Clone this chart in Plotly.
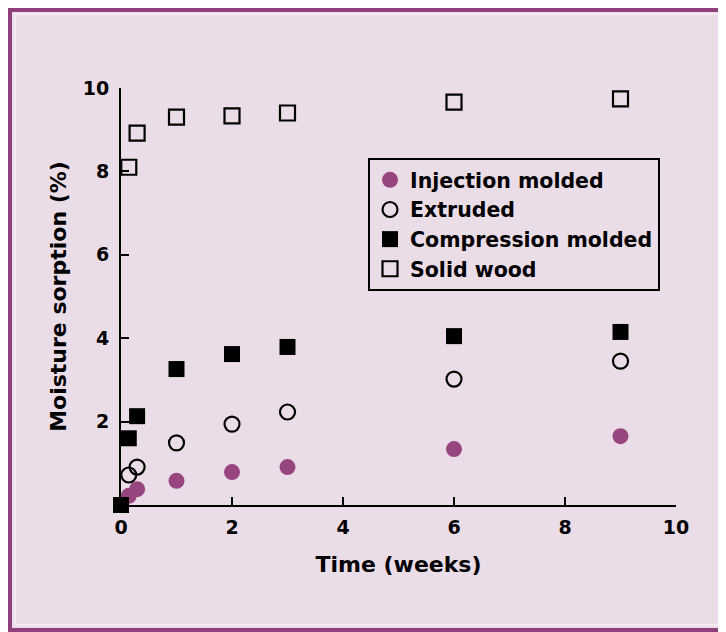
import plotly.graph_objects as go

# Data
series_names = ["Injection molded", "Extruded", "Compression molded", "Solid wood"]

time_injection = [0.14, 0.29, 1.0, 2.0, 3.0, 6.0, 9.0]
injection_molded = [0.22, 0.38, 0.58, 0.79, 0.91, 1.34, 1.65]

time_extruded = [0.14, 0.29, 1.0, 2.0, 3.0, 6.0, 9.0]
extruded = [0.72, 0.91, 1.49, 1.94, 2.23, 3.02, 3.45]

time_compression = [0.0, 0.14, 0.29, 1.0, 2.0, 3.0, 6.0, 9.0]
compression_molded = [0.0, 1.6, 2.13, 3.26, 3.62, 3.79, 4.05, 4.15]

time_wood = [0.14, 0.29, 1.0, 2.0, 3.0, 6.0, 9.0]
solid_wood = [8.1, 8.92, 9.3, 9.33, 9.4, 9.66, 9.74]

x_ticks = [0, 2, 4, 6, 8, 10]
y_ticks = [2, 4, 6, 8, 10]

BG = "#EBDDE7"
PURPLE = "#8E3F7C"
INNER = "#F4EBF1"
FONT = "DejaVu Sans, Verdana, sans-serif"

fig = go.Figure()
fig.add_trace(go.Scatter(
    x=time_injection, y=injection_molded, mode="markers", name=series_names[0],
    marker=dict(symbol="circle", size=16, color="#97457F", line=dict(width=0)),
    cliponaxis=False))
fig.add_trace(go.Scatter(
    x=time_extruded, y=extruded, mode="markers", name=series_names[1],
    marker=dict(symbol="circle-open", size=15, color="black", line=dict(width=2.2, color="black")),
    cliponaxis=False))
fig.add_trace(go.Scatter(
    x=time_compression, y=compression_molded, mode="markers", name=series_names[2],
    marker=dict(symbol="square", size=16, color="black", line=dict(width=0)),
    cliponaxis=False))
fig.add_trace(go.Scatter(
    x=time_wood, y=solid_wood, mode="markers", name=series_names[3],
    marker=dict(symbol="square-open", size=15, color="black", line=dict(width=2.2, color="black")),
    cliponaxis=False))

OFF = 8  # page body margin
W, H = 726 - OFF, 632 - OFF
L = 121 - OFF
R = W - (676 - OFF)
T = 88 - OFF
B = H - (505 - OFF)
pw, ph = W - L - R, H - T - B

def px2x(px):  # reference window pixel -> paper x
    return (px - OFF - L) / pw

def py2y(py):  # reference window pixel -> paper y
    return (H - B - (py - OFF)) / ph

def seg(x0, y0, x1, y1, color, width):
    fig.add_shape(type="line", xref="paper", yref="paper",
                  x0=px2x(x0), y0=py2y(y0), x1=px2x(x1), y1=py2y(y1),
                  line=dict(color=color, width=width), layer="below")

# light inner edge
seg(15, 14, 15, 625, INNER, 2)
seg(15, 14, 719, 14, INNER, 2)
seg(15, 625, 719, 625, INNER, 2)
seg(719, 14, 719, 625, INNER, 2)
# outer purple frame (left, top, bottom)
seg(10, 9, 10, 630, PURPLE, 4)
seg(8, 10, 726, 10, PURPLE, 4)
seg(8, 630, 726, 630, PURPLE, 4)

fig.update_layout(
    width=W, height=H,
    margin=dict(l=L, r=R, t=T, b=B, autoexpand=False),
    paper_bgcolor=BG, plot_bgcolor=BG,
    font=dict(family=FONT, size=20, color="black", weight="bold"),
    showlegend=True,
    legend=dict(
        x=px2x(368), y=py2y(158), xanchor="left", yanchor="top",
        bgcolor=BG, bordercolor="black", borderwidth=2,
        font=dict(family=FONT, size=20.5, color="black", weight="bold"),
        tracegroupgap=0, itemsizing="trace", traceorder="normal",
    ),
    xaxis=dict(
        range=[0, 10], tickvals=x_ticks, ticktext=[str(v) for v in x_ticks],
        showgrid=False, zeroline=False, showline=True, linecolor="black", linewidth=2,
        ticks="inside", ticklen=8, tickwidth=2, tickcolor="black",
        tickfont=dict(family=FONT, size=19, weight="bold"), ticklabelstandoff=4,
        title=dict(text="Time (weeks)", font=dict(family=FONT, size=22, weight="bold"), standoff=20),
    ),
    yaxis=dict(
        range=[0, 10], tickvals=y_ticks, ticktext=[str(v) for v in y_ticks],
        showgrid=False, zeroline=False, showline=True, linecolor="black", linewidth=2,
        ticks="inside", ticklen=8, tickwidth=2, tickcolor="black",
        tickfont=dict(family=FONT, size=19, weight="bold"), ticklabelstandoff=6,
        title=dict(text="Moisture sorption (%)", font=dict(family=FONT, size=22, weight="bold"), standoff=10),
    ),
)

fig.write_html("out.html")
